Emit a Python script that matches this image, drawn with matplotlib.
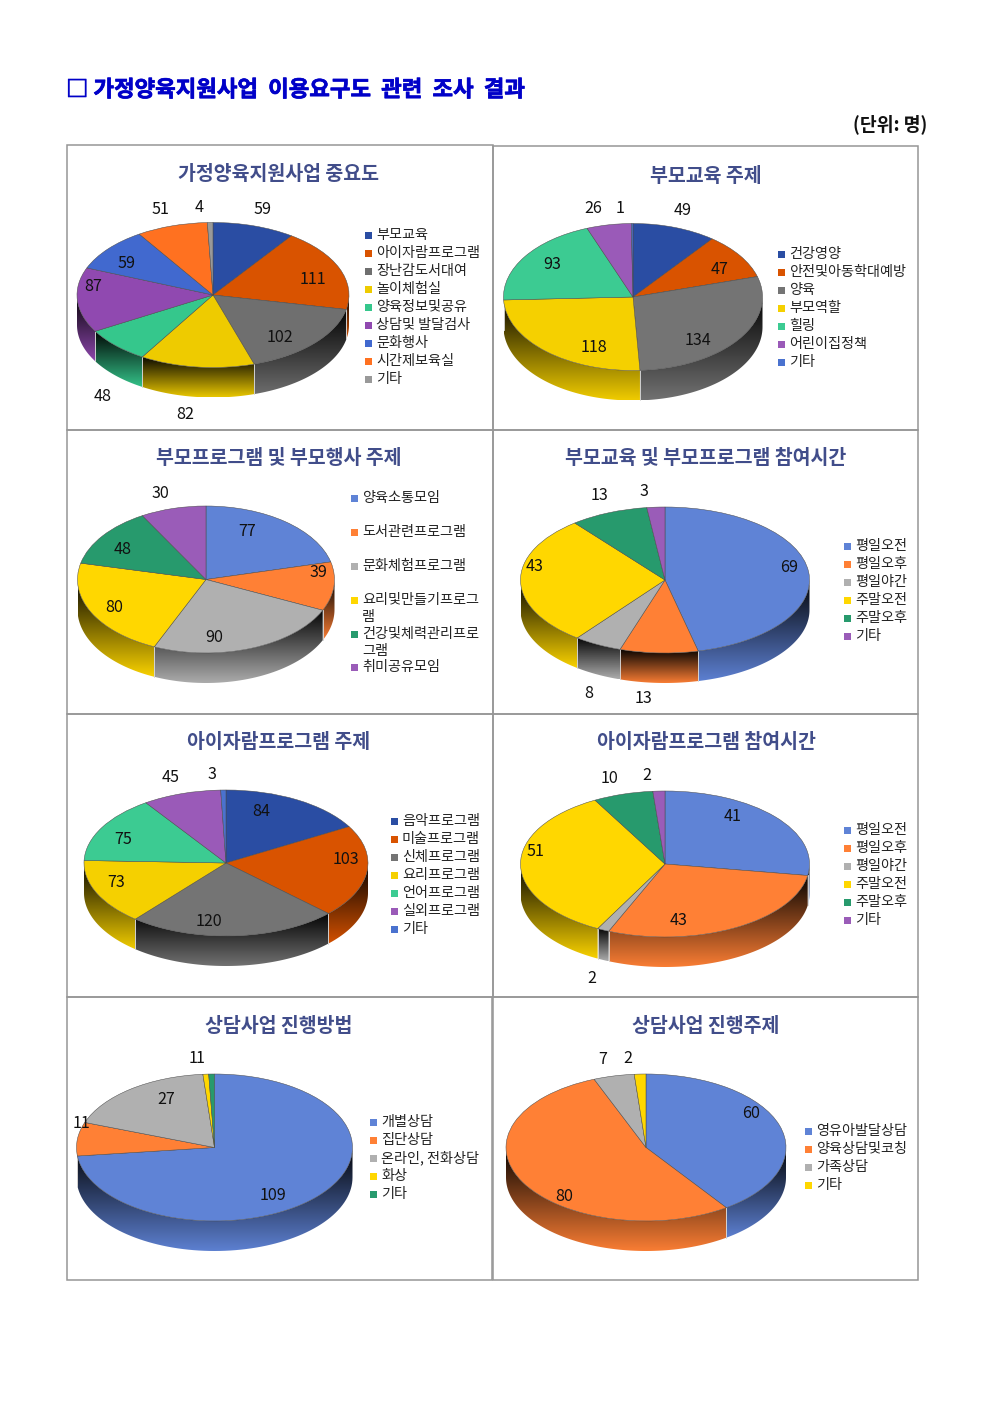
import numpy as np
import matplotlib
matplotlib.use("Agg")
import matplotlib.pyplot as plt
import matplotlib.patheffects as pe
from matplotlib.colors import to_rgb
from matplotlib.patches import Polygon, Rectangle

plt.rcParams['font.family'] = ['Noto Sans CJK KR', 'DejaVu Sans']

W, H = 992, 1403

# ---------- data ----------
MAIN_TITLE = "□ 가정양육지원사업  이용요구도  관련  조사  결과"
UNIT = "(단위: 명)"

TITLE_1 = "가정양육지원사업 중요도"
CATS_1 = ["부모교육", "아이자람프로그램", "장난감도서대여", "놀이체험실", "양육정보및공유",
          "상담및 발달검사", "문화행사", "시간제보육실", "기타"]
VALUES_1 = [59, 111, 102, 82, 48, 87, 59, 51, 4]

TITLE_2 = "부모교육 주제"
CATS_2 = ["건강영양", "안전및아동학대예방", "양육", "부모역할", "힐링", "어린이집정책", "기타"]
VALUES_2 = [49, 47, 134, 118, 93, 26, 1]

TITLE_3 = "부모프로그램 및 부모행사 주제"
CATS_3 = ["양육소통모임", "도서관련프로그램", "문화체험프로그램", "요리및만들기프로그\n램",
          "건강및체력관리프로\n그램", "취미공유모임"]
VALUES_3 = [77, 39, 90, 80, 48, 30]

TITLE_4 = "부모교육 및 부모프로그램 참여시간"
CATS_4 = ["평일오전", "평일오후", "평일야간", "주말오전", "주말오후", "기타"]
VALUES_4 = [69, 13, 8, 43, 13, 3]

TITLE_5 = "아이자람프로그램 주제"
CATS_5 = ["음악프로그램", "미술프로그램", "신체프로그램", "요리프로그램", "언어프로그램", "실외프로그램", "기타"]
VALUES_5 = [84, 103, 120, 73, 75, 45, 3]

TITLE_6 = "아이자람프로그램 참여시간"
CATS_6 = ["평일오전", "평일오후", "평일야간", "주말오전", "주말오후", "기타"]
VALUES_6 = [41, 43, 2, 51, 10, 2]

TITLE_7 = "상담사업 진행방법"
CATS_7 = ["개별상담", "집단상담", "온라인, 전화상담", "화상", "기타"]
VALUES_7 = [109, 11, 27, 1, 1]

TITLE_8 = "상담사업 진행주제"
CATS_8 = ["영유아발달상담", "양육상담및코칭", "가족상담", "기타"]
VALUES_8 = [60, 80, 7, 2]

# ---------- styles ----------
PAL_DARK_1 = ['#2a4da3', '#d95300', '#6f6f6f', '#eecb00', '#35c78c', '#9049b0', '#4169cf', '#ff7120', '#999999']
PAL_DARK_2 = ['#2a4da3', '#d95300', '#747474', '#f5d000', '#3ccb92', '#9a5ab8', '#4a72cf']
PAL_LIGHT = ['#5f83d6', '#ff8035', '#b0b0b0', '#ffd700', '#279a6d', '#9a5cb8']
PAL_LIGHT_8 = ['#5f83d6', '#ff8035', '#b0b0b0', '#ffd700']

BORDER = '#969696'
TITLE_COLOR = '#414d8a'
DEPTH_PX = 30

# ---------- layout: panel box, pie box, title, legend, label positions (pixels) ----------
PANELS = [
    dict(vals=VALUES_1, cats=CATS_1, title=TITLE_1, colors=PAL_DARK_1, box=(67, 145, 493, 430),
         c=(213, 295), r=(136, 72.5), t=(279, 173), leg=(368, 235, 18), steps=None,
         labs=[(263, 208), (313, 278), (280, 336), (185, 413), (103, 395), (93, 285), (127, 262), (160, 208), (199, 206)]),
    dict(vals=VALUES_2, cats=CATS_2, title=TITLE_2, colors=PAL_DARK_2, box=(493, 146, 918, 430),
         c=(633, 297), r=(129.5, 73.5), t=(706, 174), leg=(781, 254, 18), steps=None,
         labs=[(683, 209), (720, 268), (698, 339), (594, 346), (552, 263), (593, 207), (620, 207)]),
    dict(vals=VALUES_3, cats=CATS_3, title=TITLE_3, colors=PAL_LIGHT, box=(67, 430, 493, 714),
         c=(206, 579.5), r=(128.5, 73.5), t=(279, 457), leg=(354, 498, 34), steps=[0, 34, 68, 102, 136, 169],
         labs=[(247, 530), (318, 571), (214, 636), (114, 606), (123, 548), (160, 492)]),
    dict(vals=VALUES_4, cats=CATS_4, title=TITLE_4, colors=PAL_LIGHT, box=(493, 430, 918, 714),
         c=(665, 580), r=(144.5, 73), t=(706, 457), leg=(847, 546, 18), steps=None,
         labs=[(789, 566), (644, 697), (589, 692), (535, 565), (600, 494), (644, 490)]),
    dict(vals=VALUES_5, cats=CATS_5, title=TITLE_5, colors=PAL_DARK_2, box=(67, 714, 493, 997),
         c=(226, 863), r=(142, 73), t=(279, 740), leg=(394, 821, 18), steps=None,
         labs=[(261, 810), (346, 858), (209, 920), (116, 881), (123, 838), (171, 776), (212, 773)]),
    dict(vals=VALUES_6, cats=CATS_6, title=TITLE_6, colors=PAL_LIGHT, box=(493, 714, 918, 997),
         c=(665, 864), r=(144.5, 73), t=(706, 741), leg=(847, 830, 18), steps=None,
         labs=[(733, 815), (679, 919), (592, 977), (535, 850), (610, 777), (647, 774)]),
    dict(vals=VALUES_7, cats=CATS_7, title=TITLE_7, colors=PAL_LIGHT, box=(67, 997, 492, 1280),
         c=(214.5, 1147.5), r=(138, 73.5), t=(279, 1025), leg=(373, 1122, 18), steps=None,
         labs=[(273, 1194), (82, 1122), (166, 1098), (193, 1057), (200, 1057)]),
    dict(vals=VALUES_8, cats=CATS_8, title=TITLE_8, colors=PAL_LIGHT_8, box=(493, 997, 918, 1280),
         c=(646, 1147.5), r=(140, 73.5), t=(706, 1025), leg=(808, 1131, 18), steps=None,
         labs=[(751, 1112), (564, 1195), (603, 1058), (628, 1057)]),
]

fig = plt.figure(figsize=(W / 100, H / 100), dpi=100, facecolor='white')


def draw_pie(p):
    cx, cy = p['c']
    rx, ry = p['r']
    d = DEPTH_PX / ry
    pad = 0.02
    left = (cx - rx * (1 + pad)) / W
    bottom = 1 - (cy + ry * (1 + d + pad)) / H
    ax = fig.add_axes([left, bottom, 2 * rx * (1 + pad) / W, ry * (2 + d + 2 * pad) / H])
    wedges, _ = ax.pie(p['vals'], colors=p['colors'], startangle=90, counterclock=False, radius=1,
                       wedgeprops=dict(edgecolor='#4a4a4a', linewidth=0.35))
    for w in wedges:
        w.set_zorder(5)
    ax.set_aspect('auto')
    xlim = (-1 - pad, 1 + pad)
    ylim = (-1 - d - pad, 1 + pad)

    # side wall, one gradient piece per slice, from the same cumulative angles as the pie
    fracs = np.asarray(p['vals'], float)
    edges = np.concatenate([[0], np.cumsum(fracs) / fracs.sum() * 360])
    for a, b, col in zip(edges[:-1], edges[1:], p['colors']):
        lo, hi = max(a, 90), min(b, 270)
        if hi <= lo:
            continue
        deg = np.linspace(lo, hi, 80)
        t = np.radians(90 - deg)
        xs, ys = np.cos(t), np.sin(t)
        verts = np.vstack([np.column_stack([xs, ys]),
                           np.column_stack([xs[::-1], ys[::-1] - d])])
        rgb = np.array(to_rgb(col))
        n = 64
        ramp = np.linspace(0, 1, n)[:, None]
        top, bot = rgb * 0.03, rgb * 0.97
        img = (top * (1 - ramp) + bot * ramp)[:, None, :]
        poly = Polygon(verts, closed=True, transform=ax.transData, facecolor='none', edgecolor='none')
        ax.add_patch(poly)
        im = ax.imshow(img, extent=[xs.min(), xs.max(), (ys - d).min(), ys.max()], origin='upper',
                       aspect='auto', interpolation='bilinear', zorder=1)
        im.set_clip_path(poly)
        for q in (lo, hi):
            if 90 < q < 270:
                tq = np.radians(90 - q)
                ax.plot([np.cos(tq)] * 2, [np.sin(tq), np.sin(tq) - d], color='#d8d8d8', lw=0.5, zorder=2)
    ax.set_xlim(xlim)
    ax.set_ylim(ylim)
    ax.axis('off')


for p in PANELS:
    draw_pie(p)

# overlay in pixel coordinates for frames and text
ov = fig.add_axes([0, 0, 1, 1], zorder=10)
ov.set_xlim(0, W)
ov.set_ylim(H, 0)
ov.axis('off')
ov.patch.set_alpha(0)

ov.text(66, 90, MAIN_TITLE, fontsize=16.1, fontweight='bold', color='#0000c8', va='center', ha='left',
        path_effects=[pe.withStroke(linewidth=0.5, foreground='#0000c8')])
ov.text(927, 124.5, UNIT, fontsize=13.2, fontweight='bold', color='#111111', va='center', ha='right')

for p in PANELS:
    x0, y0, x1, y1 = p['box']
    ov.add_patch(Rectangle((x0, y0), x1 - x0, y1 - y0, fill=False, edgecolor=BORDER, linewidth=1.1))
    ov.text(p['t'][0], p['t'][1] + 2, p['title'], fontsize=14, fontweight='bold', color=TITLE_COLOR,
            ha='center', va='center')
    lx, ly, step = p['leg']
    offs = p['steps'] if p['steps'] else [i * step for i in range(len(p['cats']))]
    for cat, col, off in zip(p['cats'], p['colors'], offs):
        yy = ly + off
        ov.add_patch(Rectangle((lx - 3.5, yy - 3.5), 7, 7, facecolor=col, edgecolor='none'))
        ov.text(lx + 8, yy, cat.split('\n')[0], fontsize=10.2,
                color='#222222', ha='left', va='center')
        if '\n' in cat:
            ov.text(lx + 8, yy + 17, cat.split('\n')[1], fontsize=10.2, color='#222222', ha='left', va='center')
    for v, (tx, ty) in zip(p['vals'], p['labs']):
        ov.text(tx, ty + 1.5, str(v), fontsize=11.6, color='#111111', ha='center', va='center')

fig.savefig('out.png', dpi=100, facecolor='white')
